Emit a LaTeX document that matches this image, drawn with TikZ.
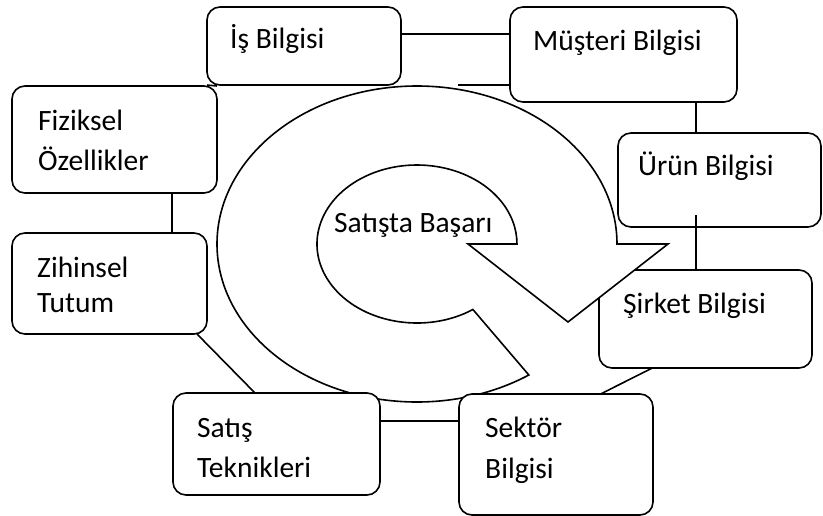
\documentclass[tikz,border=0pt]{standalone}
\usepackage{fontspec}
\setmainfont{Carlito}
\usetikzlibrary{calc}
\begin{document}
\begin{tikzpicture}[x=1pt,y=-1pt,
  box/.style={draw=black, line width=1.6pt, rounded corners=13pt, fill=white, inner sep=0pt, outer sep=0pt, anchor=north west},
  lbl/.style={anchor=base west, inner sep=0pt, font=\fontsize{29.5}{34}\selectfont},
  conn/.style={draw=black, line width=1.6pt},
  ring/.style={draw=black, line width=1.6pt, fill=white, line join=miter}]
\useasboundingbox[fill=white] (0,0) rectangle (823,515);

% box under the arrow
\node[box, minimum width=213pt, minimum height=98pt] (sirket) at (599,270) {};

% circular arrow
\draw[ring] (617,244) arc[start angle=0, end angle=-304, x radius=200, y radius=158]
  -- (472.9,309.5) arc[start angle=-304, end angle=0, x radius=100, y radius=79]
  -- (468,244) -- (568,322) -- (668,244) -- cycle;
\node[lbl] (center) at (334,232) {Satışta Başarı};

% boxes
\node[box, minimum width=194pt, minimum height=78pt] (is) at (207,7) {};
\node[box, minimum width=227pt, minimum height=95pt] (mus) at (510,7) {};
\node[box, minimum width=203pt, minimum height=94pt] (urun) at (618,133) {};
\node[box, minimum width=194pt, minimum height=121pt] (sektor) at (459,394) {};
\node[box, minimum width=207pt, minimum height=102pt] (satis) at (173,393) {};
\node[box, minimum width=195pt, minimum height=101pt] (zihin) at (12,233) {};
\node[box, minimum width=205pt, minimum height=107pt] (fiz) at (12,86) {};

% labels
\node[lbl] (t-is) at (230,48) {İş Bilgisi};
\node[lbl] (t-mus) at (533,50) {Müşteri Bilgisi};
\node[lbl] (t-urun) at (638,175) {Ürün Bilgisi};
\node[lbl] (t-sirket) at (623,313) {Şirket Bilgisi};
\node[lbl] (t-sektor1) at (485,437) {Sektör};
\node[lbl] (t-sektor2) at (485,478) {Bilgisi};
\node[lbl] (t-satis1) at (197,437) {Satış};
\node[lbl] (t-satis2) at (197,477) {Teknikleri};
\node[lbl] (t-zihin1) at (37,277) {Zihinsel};
\node[lbl] (t-zihin2) at (37,312) {Tutum};
\node[lbl] (t-fiz1) at (38,130) {Fiziksel};
\node[lbl] (t-fiz2) at (38,170) {Özellikler};

% connectors
\coordinate (c1) at ([yshift=12pt]is.east);
\draw[conn] (c1) -- (c1 -| mus.west);
\coordinate (c2) at (458,85);
\draw[conn] (c2) -- (c2 -| mus.west);
\draw[conn] (is.south west) -- (fiz.north east);
\coordinate (c3) at (696,102);
\draw[conn] (c3 |- mus.south) -- (c3 |- urun.north);
\coordinate (c4) at (696,215);
\draw[conn] (c4) -- (c4 |- sirket.north);
\draw[conn] ($(sirket.south west)!0.25!(sirket.south east)$) -- ($(sektor.north west)!0.73!(sektor.north east)$);
\coordinate (c5) at ([yshift=23pt]satis.east);
\draw[conn] (c5) -- (c5 -| sektor.west);
\draw[conn] ($(zihin.south east)+(-10,0)$) -- ($(satis.north west)+(82,0)$);
\coordinate (c6) at ($(fiz.south west)!0.78!(fiz.south east)$);
\draw[conn] (c6) -- (c6 |- zihin.north);
\end{tikzpicture}
\end{document}
